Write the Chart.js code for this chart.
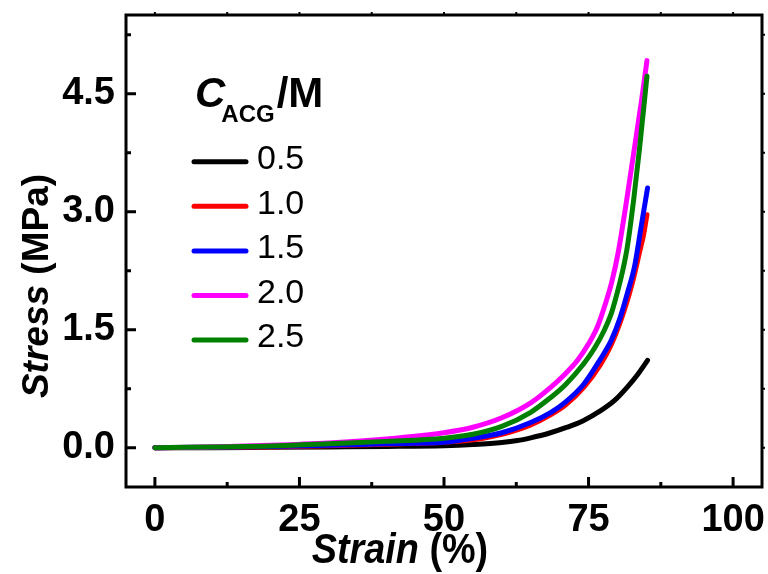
<!DOCTYPE html>
<html>
<head>
<meta charset="utf-8">
<script src="https://cdn.jsdelivr.net/npm/chart.js@4.4.1/dist/chart.umd.min.js"></script>
<style>
html, body { margin: 0; background: #fff; }
#wrap { width: 768px; height: 574px; position: relative; }
</style>
</head>
<body>
<div id="wrap"><canvas id="myChart"></canvas></div>
<script>
const concentrations = ['0.5', '1.0', '1.5', '2.0', '2.5'];
const colors = ['#000000', '#ff0000', '#0000ff', '#ff00ff', '#008000'];

const strain05 = [0, 10, 20, 30, 40, 50, 55, 60, 62.7, 65, 68, 71.3, 74, 77.1, 79.5, 81.7, 83.5, 85.2];
const stress05 = [0, 0, 0.005, 0.01, 0.015, 0.025, 0.04, 0.065, 0.09, 0.125, 0.18, 0.26, 0.34, 0.47, 0.6, 0.77, 0.93, 1.11];

const strain10 = [0, 10, 20, 30, 40, 50, 55, 60, 65, 68.5, 71, 74.2, 77, 79, 81.2, 82.6, 83.9, 84.5, 85.1];
const stress10 = [0, 0.005, 0.01, 0.025, 0.045, 0.07, 0.1, 0.17, 0.29, 0.42, 0.54, 0.77, 1.05, 1.32, 1.75, 2.1, 2.51, 2.7, 2.96];

const strain15 = [0, 10, 20, 30, 40, 50, 55, 60, 65, 68.5, 71, 74.2, 77, 78.9, 80.5, 81.7, 83, 84.1, 85.2];
const stress15 = [0, 0.005, 0.015, 0.03, 0.05, 0.07, 0.12, 0.19, 0.32, 0.45, 0.58, 0.81, 1.12, 1.36, 1.66, 1.96, 2.32, 2.81, 3.3];

const strain20 = [0, 10, 20, 30, 40, 50, 55, 60, 65, 68.5, 71, 73.1, 75, 76.5, 78, 79, 80.2, 81.6, 82.9, 84.2, 85.1];
const stress20 = [0, 0.01, 0.03, 0.06, 0.11, 0.19, 0.26, 0.38, 0.57, 0.77, 0.94, 1.11, 1.32, 1.53, 1.85, 2.1, 2.51, 3.15, 3.79, 4.43, 4.92];

const strain25 = [0, 10, 20, 30, 40, 50, 55, 60, 65, 68.5, 71, 74.2, 76, 77.7, 79, 80, 81, 81.7, 82.8, 83.8, 85.1];
const stress25 = [0, 0.01, 0.02, 0.05, 0.08, 0.12, 0.17, 0.27, 0.45, 0.64, 0.8, 1.07, 1.26, 1.49, 1.72, 1.98, 2.28, 2.55, 3.15, 3.79, 4.72];

const strainTicks = [0, 25, 50, 75, 100];
const stressTicks = [0, 1.5, 3.0, 4.5];

const curves = [
	[strain05, stress05],
	[strain10, stress10],
	[strain15, stress15],
	[strain20, stress20],
	[strain25, stress25]
];

const FONT = "'Liberation Sans', Arial, sans-serif";

// draws a run of text pieces with their own fonts, squeezed horizontally by sx
function drawPieces(ctx, pieces, cx, y, sx) {
	let total = 0;
	pieces.forEach(p => { ctx.font = p.font; p.w = ctx.measureText(p.text).width; total += p.w; });
	ctx.save();
	ctx.translate(cx, y);
	ctx.scale(sx, 1);
	let x = -total / 2;
	pieces.forEach(p => { ctx.font = p.font; ctx.fillText(p.text, x, 0); x += p.w; });
	ctx.restore();
}

// frame, inward ticks, axis titles and the legend box
const decorations = {
	id: 'decorations',
	afterDraw(chart) {
		const ctx = chart.ctx;
		const a = chart.chartArea;
		const xs = chart.scales.x, ys = chart.scales.y;
		ctx.save();
		ctx.strokeStyle = '#000';
		ctx.lineWidth = 3;
		ctx.lineCap = 'butt';
		ctx.strokeRect(a.left, a.top, a.right - a.left, a.bottom - a.top);

		ctx.beginPath();
		for (let v = 0; v <= 100; v += 12.5) {
			const px = xs.getPixelForValue(v);
			const len = v % 25 === 0 ? 10 : 5;
			ctx.moveTo(px, a.bottom);
			ctx.lineTo(px, a.bottom - len);
		}
		for (let v = 0; v <= 5.3; v += 0.75) {
			const py = ys.getPixelForValue(v);
			const len = Math.abs(v / 1.5 - Math.round(v / 1.5)) < 1e-6 ? 10 : 5;
			ctx.moveTo(a.left, py);
			ctx.lineTo(a.left + len, py);
		}
		ctx.stroke();

		ctx.lineWidth = 2;
		ctx.beginPath();
		for (let v = 0; v <= 100; v += 12.5) {
			const px = xs.getPixelForValue(v);
			ctx.moveTo(px, a.top);
			ctx.lineTo(px, a.top - 3);
		}
		for (let v = 0; v <= 5.3; v += 0.75) {
			const py = ys.getPixelForValue(v);
			ctx.moveTo(a.right, py);
			ctx.lineTo(a.right + 3, py);
		}
		ctx.stroke();

		ctx.fillStyle = '#000';
		ctx.textBaseline = 'alphabetic';

		// x title
		drawPieces(ctx, [
			{ text: 'Strain ', font: 'italic bold 42px ' + FONT },
			{ text: '(%)', font: 'bold 42px ' + FONT }
		], 400, 563, 0.9);

		// y title
		ctx.save();
		ctx.translate(48, 286);
		ctx.rotate(-Math.PI / 2);
		drawPieces(ctx, [
			{ text: 'Stress ', font: 'italic bold 37px ' + FONT },
			{ text: '(MPa)', font: 'bold 37px ' + FONT }
		], 0, 0, 1);
		ctx.restore();

		// legend title C_ACG/M
		let lx = 195;
		ctx.font = 'italic bold 42px ' + FONT;
		ctx.fillText('C', lx, 107);
		lx += ctx.measureText('C').width - 4;
		ctx.font = 'bold 24px ' + FONT;
		ctx.fillText('ACG', lx, 122);
		lx += ctx.measureText('ACG').width + 2;
		ctx.font = 'bold 42px ' + FONT;
		ctx.fillText('/M', lx, 107);

		// legend entries
		ctx.lineCap = 'round';
		ctx.lineWidth = 5;
		ctx.font = '34px ' + FONT;
		ctx.textBaseline = 'middle';
		chart.data.datasets.forEach((ds, i) => {
			const y = 161.7 + i * 44.6;
			ctx.strokeStyle = ds.borderColor;
			ctx.beginPath();
			ctx.moveTo(194, y);
			ctx.lineTo(246, y);
			ctx.stroke();
			ctx.fillText(ds.label, 257, y - 2);
		});
		ctx.restore();
	}
};

const ctx = document.getElementById('myChart').getContext('2d');
const myChart = new Chart(ctx, {
	type: 'line',
	data: {
		datasets: concentrations.map((c, i) => ({
			label: c,
			data: curves[i][0].map((s, j) => ({ x: s, y: curves[i][1][j] })),
			borderColor: colors[i],
			borderWidth: 5,
			borderCapStyle: 'round',
			borderJoinStyle: 'round',
			pointRadius: 0,
			fill: false,
			cubicInterpolationMode: 'monotone',
			order: concentrations.length - i
		}))
	},
	options: {
		responsive: true,
		maintainAspectRatio: false,
		animation: false,
		layout: { padding: { top: 15, right: 6, left: 0, bottom: 0 } },
		plugins: {
			legend: { display: false },
			tooltip: { enabled: false }
		},
		scales: {
			x: {
				type: 'linear',
				min: -5,
				max: 105,
				afterFit: (s) => { s.height = 87; s.paddingLeft = 0; s.paddingRight = 0; },
				afterBuildTicks: (s) => { s.ticks = strainTicks.map(v => ({ value: v })); },
				ticks: {
					color: '#000',
					padding: 3,
					maxRotation: 0,
					font: { family: FONT, size: 38, weight: 'bold' },
					callback: (v) => String(v)
				},
				grid: { display: false },
				border: { display: false }
			},
			y: {
				type: 'linear',
				min: -0.5,
				max: 5.5,
				afterFit: (s) => { s.width = 126; s.paddingTop = 0; s.paddingBottom = 0; },
				afterBuildTicks: (s) => { s.ticks = stressTicks.map(v => ({ value: v })); },
				ticks: {
					color: '#000',
					padding: 3,
					font: { family: FONT, size: 38, weight: 'bold' },
					callback: (v) => Number(v).toFixed(1)
				},
				grid: { display: false },
				border: { display: false }
			}
		}
	},
	plugins: [decorations]
});
</script>
</body>
</html>
